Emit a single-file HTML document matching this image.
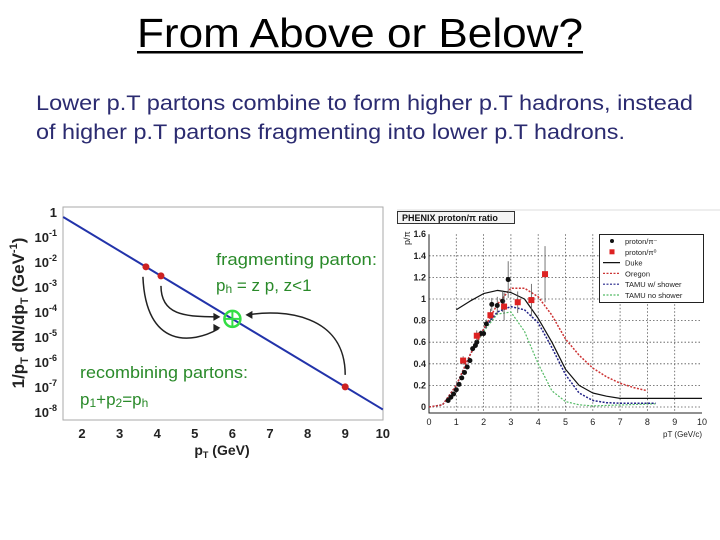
<!DOCTYPE html>
<html><head><meta charset="utf-8"><style>
html,body{margin:0;padding:0;background:#fff;}
svg{display:block;font-family:"Liberation Sans",Arial,sans-serif;}
</style></head><body>
<svg id="slide" width="720" height="540" viewBox="0 0 720 540">
<text x="360" y="47" text-anchor="middle" font-size="41" fill="#000" textLength="446" lengthAdjust="spacingAndGlyphs">From Above or Below?</text>
<rect x="137" y="51" width="446" height="2.5" fill="#000"/>
<text x="36" y="110" font-size="21" fill="#2b2b70" textLength="657" lengthAdjust="spacingAndGlyphs">Lower p.T partons combine to form higher p.T hadrons, instead</text>
<text x="36" y="139" font-size="21" fill="#2b2b70" textLength="589" lengthAdjust="spacingAndGlyphs">of higher p.T partons fragmenting into lower p.T hadrons.</text>
<g id="left"></g>
<g id="right"></g>
</svg>
<script>
// ----- left chart data -----
const lxTicks = [2,3,4,5,6,7,8,9,10];
const lyDecades = [0,-1,-2,-3,-4,-5,-6,-7,-8];
const lineP = [1.5, 10];
const lineLog = [-0.2, -7.9];
const redP = [3.7, 4.1, 9];
const greenP = [6];
// ----- right chart data -----
const rxTicks = [0,1,2,3,4,5,6,7,8,9,10];
const ryTicks = [0,0.2,0.4,0.6,0.8,1,1.2,1.4,1.6];
const blackX = [0.7,0.8,0.9,1.0,1.1,1.2,1.3,1.4,1.5,1.6,1.7,1.75,1.9,2.0,2.1,2.3,2.5,2.7,2.9];
const blackY = [0.06,0.09,0.12,0.16,0.21,0.27,0.32,0.37,0.43,0.54,0.57,0.60,0.68,0.68,0.77,0.95,0.94,0.98,1.18];
const blackErr = [0.01,0.01,0.01,0.01,0.01,0.01,0.01,0.01,0.02,0.02,0.02,0.02,0.03,0.03,0.04,0.06,0.08,0.1,0.17];
const redX = [1.25,1.75,2.25,2.75,3.25,3.75,4.25];
const redY = [0.43,0.66,0.85,0.93,0.97,0.99,1.23];
const redErr = [0.04,0.05,0.06,0.13,0.1,0.15,0.26];
const dukeX = [1.0,1.5,2,2.5,3,3.5,4,4.5,5,5.5,6,6.5,7,10];
const dukeY = [0.9,0.98,1.05,1.08,1.06,1.0,0.82,0.6,0.35,0.2,0.13,0.1,0.08,0.08];
const oregonX = [0,0.5,1,1.5,2,2.5,3,3.5,4,4.5,5,5.5,6,6.5,7,7.5,8];
const oregonY = [0,0.02,0.2,0.48,0.72,0.95,1.1,1.1,1.02,0.85,0.63,0.48,0.36,0.28,0.22,0.18,0.15];
const tamuX = [0,0.5,1,1.5,2,2.5,3,3.5,4,4.5,5,5.5,6,6.5,7,8.3];
const tamuY = [0,0.02,0.2,0.48,0.72,0.88,0.93,0.9,0.78,0.55,0.3,0.13,0.06,0.04,0.035,0.035];
const tamuNoX = [0,0.5,1,1.5,2,2.5,3,3.5,4,4.5,5,5.5,6,8.3];
const tamuNoY = [0,0.02,0.2,0.48,0.7,0.86,0.88,0.7,0.4,0.15,0.05,0.02,0.01,0.03];

const NS="http://www.w3.org/2000/svg";
function mk(tag, attrs, parent, txt){const e=document.createElementNS(NS,tag);for(const k in attrs)e.setAttribute(k,attrs[k]);if(txt!==undefined)e.textContent=txt;parent.appendChild(e);return e;}

// ---- left ----
const L=document.getElementById('left');
const lx=p=>82+(p-2)*37.6;
const ly=l=>212-l*25;
let e;
e=mk('rect',{x:63,y:207,width:320,height:213,fill:'none',stroke:'#aaa','stroke-width':1},L);


lxTicks.forEach(t=>{e=mk('text',{x:lx(t),y:438,'font-size':13,'font-weight':'bold','text-anchor':'middle',fill:'#222'},L,String(t));

});
lyDecades.forEach(d=>{
 if(d===0){e=mk('text',{x:57,y:ly(d)+5,'font-size':13,'font-weight':'bold','text-anchor':'end',fill:'#222'},L,'1');}
 else{e=mk('text',{x:57,y:ly(d)+5,'font-size':13,'font-weight':'bold','text-anchor':'end',fill:'#222'},L);
  mk('tspan',{},e,'10');mk('tspan',{dy:-6,'font-size':9},e,String(d));}
 
 
});
e=mk('text',{x:222,y:455,'font-size':14,'font-weight':'bold','text-anchor':'middle',fill:'#222'},L);
mk('tspan',{},e,'p');mk('tspan',{'font-size':9,dy:3},e,'T');mk('tspan',{dy:-3},e,' (GeV)');


e=mk('text',{x:0,y:0,'font-size':17,'font-weight':'bold','text-anchor':'middle',fill:'#222',transform:'translate(24,313) rotate(-90)'},L);
mk('tspan',{},e,'1/p');mk('tspan',{'font-size':11,dy:4},e,'T');mk('tspan',{dy:-4},e,' dN/dp');mk('tspan',{'font-size':11,dy:4},e,'T');mk('tspan',{dy:-4},e,' (GeV');mk('tspan',{'font-size':11,dy:-7},e,'-1');mk('tspan',{dy:7},e,')');


e=mk('line',{x1:lx(lineP[0]),y1:ly(lineLog[0]),x2:lx(lineP[1]),y2:ly(lineLog[1]),stroke:'#2233aa','stroke-width':2},L);


const logAt=p=>lineLog[0]+(p-lineP[0])*(lineLog[1]-lineLog[0])/(lineP[1]-lineP[0]);
const gx=lx(greenP[0]), gy=ly(logAt(greenP[0]));
const arrows=[
 `M${lx(redP[0])-3},${ly(logAt(redP[0]))+10} C${lx(redP[0])},${gy+30} ${gx-40},${gy+25} ${gx-14},${gy+10}`,
 `M${lx(redP[1])},${ly(logAt(redP[1]))+10} C${lx(redP[1])},${gy} ${gx-40},${gy-3} ${gx-14},${gy-2}`,
 `M${lx(redP[2])},${ly(logAt(redP[2]))-12} C${lx(redP[2])},${gy-5} ${gx+50},${gy-10} ${gx+15},${gy-4}`];
arrows.forEach(d=>{e=mk('path',{d,fill:'none',stroke:'#222','stroke-width':1.5},L);

});
[[gx-12,gy+9,-1],[gx-12,gy-2,-1],[gx+13,gy-4,1]].forEach(([x,y,dx])=>{
 e=mk('path',{d:`M${x},${y} l${dx*7},-4 l0,8 z`,fill:'#222'},L);
 
 });
redP.forEach(p=>{e=mk('circle',{cx:lx(p),cy:ly(logAt(p)),r:3.5,fill:'#cc2222'},L);

});
greenP.forEach(p=>{const cx=lx(p),cy=ly(logAt(p));
e=mk('g',{},L);
mk('circle',{cx,cy,r:8,fill:'none',stroke:'#33dd44','stroke-width':2.5},e);
mk('line',{x1:cx-8,y1:cy,x2:cx+8,y2:cy,stroke:'#33dd44','stroke-width':2},e);
mk('line',{x1:cx,y1:cy-8,x2:cx,y2:cy+8,stroke:'#33dd44','stroke-width':2},e);

});
const green='#2a8a2a';
e=mk('text',{x:216,y:265,'font-size':17,fill:green,textLength:161,lengthAdjust:'spacingAndGlyphs'},L,'fragmenting parton:');


e=mk('text',{x:216,y:291,'font-size':17,fill:green},L);
mk('tspan',{},e,'p');mk('tspan',{'font-size':12,dy:2},e,'h');mk('tspan',{dy:-2},e,' = z p, z<1');


e=mk('text',{x:80,y:378,'font-size':17,fill:green,textLength:168,lengthAdjust:'spacingAndGlyphs'},L,'recombining partons:');


e=mk('text',{x:80,y:405,'font-size':17,fill:green},L);
mk('tspan',{},e,'p');mk('tspan',{'font-size':12,dy:2},e,'1');mk('tspan',{dy:-2},e,'+p');mk('tspan',{'font-size':12,dy:2},e,'2');mk('tspan',{dy:-2},e,'=p');mk('tspan',{'font-size':12,dy:2},e,'h');



// ---- right ----
const R=document.getElementById('right');
const rx=v=>429+v*27.3;
const ry=v=>407-v*108;
e=mk('line',{x1:397,y1:210,x2:720,y2:210,stroke:'#ddd','stroke-width':1},R);


e=mk('rect',{x:397.5,y:211.5,width:117,height:12,fill:'#f4f4f4',stroke:'#333','stroke-width':1},R);


e=mk('text',{x:402,y:221,'font-size':9,'font-weight':'bold',fill:'#111'},R,'PHENIX proton/π ratio');


rxTicks.forEach(t=>{ if(t>0&&t<10){e=mk('line',{x1:rx(t),y1:ry(1.6),x2:rx(t),y2:413,stroke:'#555','stroke-width':0.8,'stroke-dasharray':'1.5,2'},R);
 
 }
 e=mk('text',{x:rx(t),y:425,'font-size':9,'text-anchor':'middle',fill:'#222'},R,String(t));
 
 });
ryTicks.forEach(t=>{ if(t<1.6){e=mk('line',{x1:429,y1:ry(t),x2:702,y2:ry(t),stroke:'#555','stroke-width':0.8,'stroke-dasharray':'1.5,2'},R);
 
 }
 e=mk('text',{x:426,y:ry(t)+3,'font-size':9,'text-anchor':'end','font-weight':'bold',fill:'#222'},R,String(t));
 
 });
e=mk('path',{d:`M429,${ry(1.6)} L429,413 L702,413`,fill:'none',stroke:'#222','stroke-width':1},R);


e=mk('text',{x:0,y:0,'font-size':9,fill:'#222',transform:`translate(410,${ry(1.5)}) rotate(-90)`},R,'p/π');


e=mk('text',{x:702,y:437,'font-size':8,'text-anchor':'end',fill:'#222'},R,'pT (GeV/c)');


function curve(xs,ys,color,dash,name,w){
 const d=xs.map((x,i)=>(i?'L':'M')+rx(x).toFixed(1)+','+ry(ys[i]).toFixed(1)).join(' ');
 const el=mk('path',{d,fill:'none',stroke:color,'stroke-width':w,'stroke-dasharray':dash,'stroke-linejoin':'round'},R);
 
 
}
curve(tamuNoX,tamuNoY,'#55bb66','2,1.5','tamu-no-shower-curve',1.2);
curve(tamuX,tamuY,'#222288','2,1.5','tamu-shower-curve',1.5);
curve(oregonX,oregonY,'#cc3333','2,1.5','oregon-curve',1.5);
curve(dukeX,dukeY,'#111','','duke-curve',1.2);
blackX.forEach((x,i)=>{e=mk('g',{},R);
 mk('line',{x1:rx(x),y1:ry(blackY[i]-blackErr[i]),x2:rx(x),y2:ry(blackY[i]+blackErr[i]),stroke:'#555','stroke-width':0.8},e);
 mk('circle',{cx:rx(x),cy:ry(blackY[i]),r:2.5,fill:'#111'},e);
 
 });
redX.forEach((x,i)=>{e=mk('g',{},R);
 mk('line',{x1:rx(x),y1:ry(redY[i]-redErr[i]),x2:rx(x),y2:ry(redY[i]+redErr[i]),stroke:'#555','stroke-width':0.8},e);
 mk('rect',{x:rx(x)-3,y:ry(redY[i])-3,width:6,height:6,fill:'#dd2222'},e);
 
 });
e=mk('rect',{x:599.5,y:234.5,width:104,height:68,fill:'#fff',stroke:'#222','stroke-width':1},R);


const leg=[['proton/π⁻','dot','#111',''],['proton/π⁰','sq','#dd2222',''],['Duke','line','#111',''],['Oregon','line','#cc3333','2,1.5'],['TAMU w/ shower','line','#222288','2,1.5'],['TAMU no shower','line','#55bb66','2,1.5']];
leg.forEach((l,i)=>{const y=242+i*10.8;e=mk('g',{},R);
 if(l[1]==='dot')mk('circle',{cx:612,cy:y-1,r:2,fill:l[2]},e);
 else if(l[1]==='sq')mk('rect',{x:609.5,y:y-3.5,width:5,height:5,fill:l[2]},e);
 else mk('line',{x1:603,y1:y-1,x2:620,y2:y-1,stroke:l[2],'stroke-width':1.2,'stroke-dasharray':l[3]},e);
 mk('text',{x:625,y:y+2,'font-size':7.5,fill:'#222'},e,l[0]);
 
 });
</script>
</body></html>
